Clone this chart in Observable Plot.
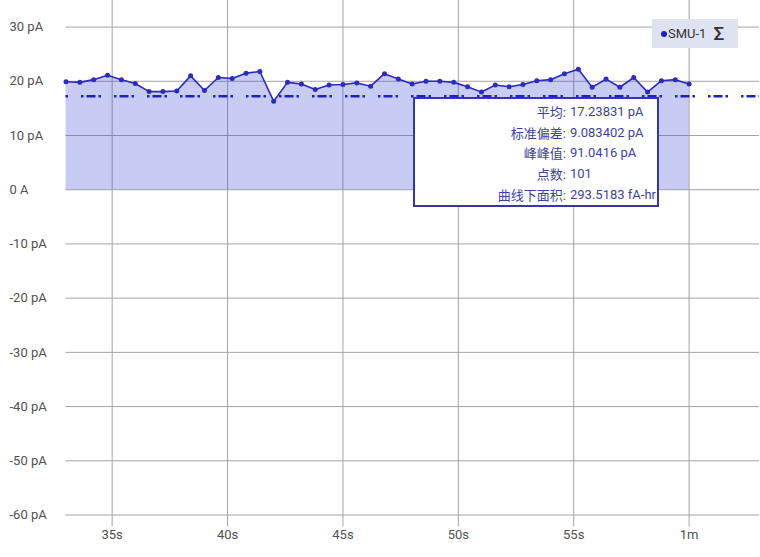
<!DOCTYPE html>
<html>
<head>
<meta charset="utf-8">
<script src="https://cdn.jsdelivr.net/npm/d3@7"></script>
<script src="https://cdn.jsdelivr.net/npm/@observablehq/plot@0.6"></script>
<style>
  html, body { margin: 0; padding: 0; background: #fff; }
  #wrap { position: relative; width: 760px; height: 557px; font-family: Roboto, "Noto Sans CJK SC", sans-serif; }
  #wrap svg { display: block; }
  .legend { position: absolute; left: 652px; top: 19px; width: 86px; height: 29px; background: #dfe3f1;
    display: flex; align-items: center; box-sizing: border-box; padding-left: 9px; font-size: 13px; color: #333; }
  .legend .dot { width: 6px; height: 6px; border-radius: 50%; background: #1c1ccf; margin-right: 1px; }
  .legend .sig { font-size: 19px; font-weight: 500; margin-left: 7px; color: #333; line-height: 1; }
  .stats { position: absolute; left: 412.5px; top: 97px; width: 246px; height: 110px; box-sizing: border-box;
    border: 2px solid #3434b4; background: #fff; padding-top: 2px;
    display: grid; grid-template-columns: 151.5px auto; grid-auto-rows: 20.7px; column-gap: 4px;
    font-size: 13px; color: #3c3fa6; align-items: center; }
  .stats .lab { text-align: right; }
  .stats .val { text-align: left; }
</style>
</head>
<body>
<div id="wrap"></div>
<script>
// ---- data ----
const times = [33.0,33.6,34.2,34.8,35.4,36.0,36.6,37.2,37.8,38.4,39.0,39.6,40.2,40.8,41.4,42.0,42.6,43.2,43.8,44.4,45.0,45.6,46.2,46.8,47.4,48.0,48.6,49.2,49.8,50.4,51.0,51.6,52.2,52.8,53.4,54.0,54.6,55.2,55.8,56.4,57.0,57.6,58.2,58.8,59.4,60.0];
const currents = [19.9,19.8,20.3,21.1,20.3,19.6,18.1,18.1,18.2,21.0,18.3,20.7,20.5,21.5,21.8,16.3,19.8,19.5,18.5,19.3,19.4,19.7,19.1,21.4,20.4,19.5,20.0,20.0,19.8,19.0,18.0,19.3,19.0,19.4,20.1,20.3,21.4,22.2,18.9,20.4,18.9,20.7,18.0,20.1,20.3,19.5];
const meanValue = [17.23831];
const xTicks = [35, 40, 45, 50, 55, 60];
const xTickLabels = ["35s", "40s", "45s", "50s", "55s", "1m"];
const yTicks = [-60, -50, -40, -30, -20, -10, 0, 10, 20, 30];
const yTickLabels = ["-60 pA", "-50 pA", "-40 pA", "-30 pA", "-20 pA", "-10 pA", "0 A", "10 pA", "20 pA", "30 pA"];
const seriesName = "SMU-1";
const statLabels = ["平均:", "标准偏差:", "峰峰值:", "点数:", "曲线下面积:"];
const statValues = ["17.23831 pA", "9.083402 pA", "91.0416 pA", "101", "293.5183 fA-hr"];

const data = times.map((t, i) => ({t, v: currents[i]}));
const gridColor = "#a3a3a3";
const lineColor = "#2b2bbf";

const plot = Plot.plot({
  width: 760,
  height: 557,
  marginTop: 0,
  marginBottom: 42.5,
  marginLeft: 65.5,
  marginRight: 1,
  style: {fontFamily: "Roboto, sans-serif", fontSize: "13px", background: "#fff"},
  x: {domain: [33, 63.05]},
  y: {domain: [-60, 34.9]},
  marks: [
    Plot.gridX(xTicks, {stroke: gridColor, strokeOpacity: 1}),
    Plot.gridY(yTicks, {stroke: gridColor, strokeOpacity: 1}),
    Plot.axisX(xTicks, {tickSize: 12, tickPadding: 3, stroke: gridColor, fill: "#505050", fontSize: 13,
      tickFormat: d => xTickLabels[xTicks.indexOf(d)], label: null}),
    Plot.axisY(yTicks, {tickSize: 0, textAnchor: "start", dx: -47.5, fill: "#505050", fontSize: 13,
      tickFormat: d => yTickLabels[yTicks.indexOf(d)], label: null}),
    Plot.areaY(data, {x: "t", y1: 0, y2: "v", fill: "#3a45d8", fillOpacity: 0.28}),
    Plot.ruleY(meanValue, {stroke: "#1f1fc8", strokeWidth: 2.6, strokeDasharray: "2.5,3,9,3,2.5,13", strokeDashoffset: 17.5}),
    Plot.lineY(data, {x: "t", y: "v", stroke: lineColor, strokeWidth: 1.6}),
    Plot.dot(data, {x: "t", y: "v", r: 2.5, fill: lineColor, stroke: "none"})
  ]
});

const wrap = document.getElementById("wrap");
wrap.appendChild(plot);

const legend = document.createElement("div");
legend.className = "legend";
legend.innerHTML = `<span class="dot"></span><span>${seriesName}</span><span class="sig">Σ</span>`;
wrap.appendChild(legend);

const stats = document.createElement("div");
stats.className = "stats";
statLabels.forEach((l, i) => {
  const a = document.createElement("div"); a.className = "lab"; a.textContent = l;
  const b = document.createElement("div"); b.className = "val"; b.textContent = statValues[i];
  stats.appendChild(a); stats.appendChild(b);
});
wrap.appendChild(stats);
</script>
</body>
</html>
